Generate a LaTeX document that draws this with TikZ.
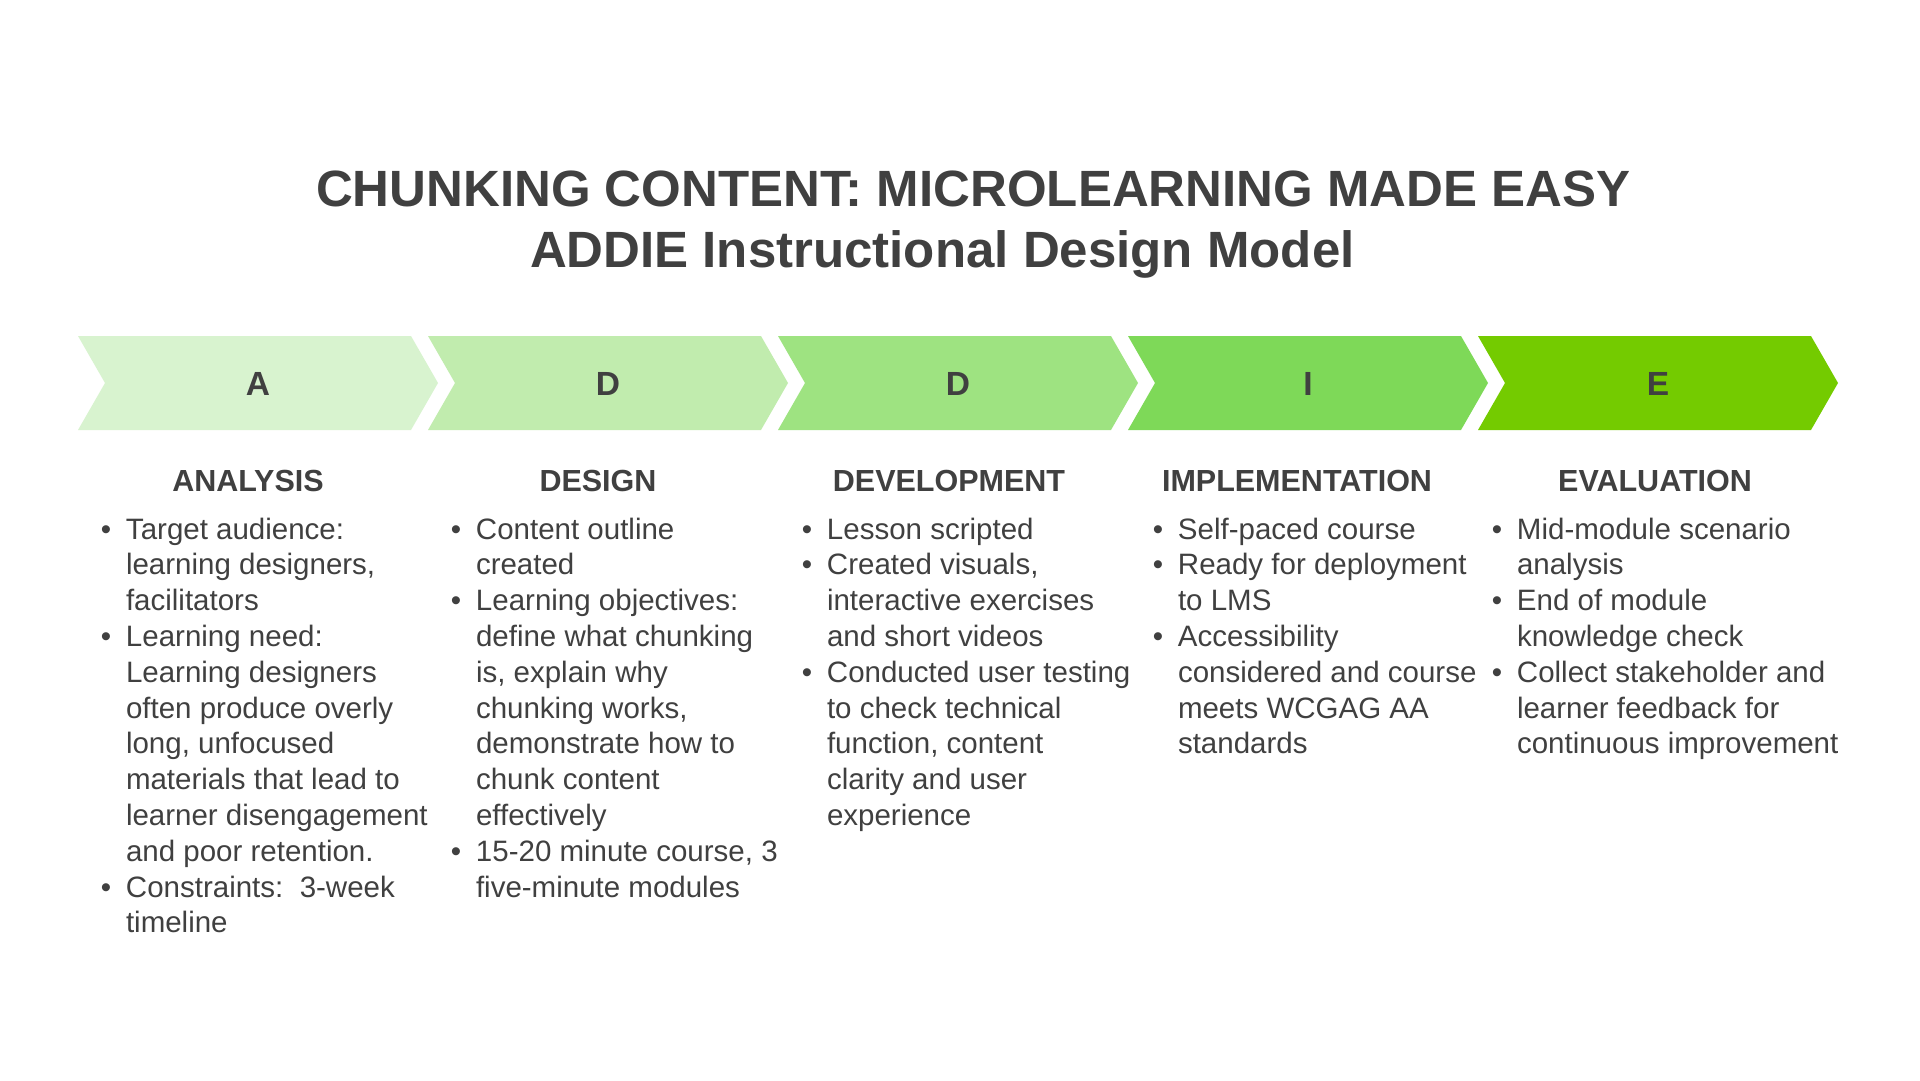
\documentclass[tikz,border=0pt]{standalone}
\usepackage{fontspec}
\setmainfont{Liberation Sans}
\definecolor{txt}{HTML}{404040}
\definecolor{cA}{HTML}{D8F3CF}
\definecolor{cB}{HTML}{C1ECAE}
\definecolor{cC}{HTML}{9EE381}
\definecolor{cD}{HTML}{7ED958}
\definecolor{cE}{HTML}{74CB00}
\newcommand\bi[1]{\hbox{\llap{\hbox to 40pt{\hss\textbullet\hss}}#1}}
\newcommand\cl[1]{\hbox{#1}}
\newcommand\lines[1]{\vtop{\baselineskip=35.8pt\lineskiplimit=-100pt\lineskip=0pt #1}}
\begin{document}
\begin{tikzpicture}[x=1pt,y=-1pt,
  every node/.style={inner sep=0pt, outer sep=0pt, text=txt},
  titlefont/.style={font=\fontsize{51}{56}\selectfont\bfseries},
  letterfont/.style={font=\fontsize{33.5}{36}\selectfont\bfseries},
  headfont/.style={font=\fontsize{30.5}{32}\selectfont\bfseries},
  bodyfont/.style={font=\fontsize{29.5}{36}\selectfont}]
\useasboundingbox[fill=white] (0,0) rectangle (1920,1080);

\node[titlefont, anchor=base west] (t1) at (316,206) {CHUNKING CONTENT: MICROLEARNING MADE EASY};
\node[titlefont, anchor=base west] (t2) at (530,267) {ADDIE Instructional Design Model};

\foreach \i/\c/\l in {0/cA/A,1/cB/D,2/cC/D,3/cD/I,4/cE/E}{
  \pgfmathsetmacro\L{78+350*\i}
  \fill[\c] (\L,336) -- (\L+333,336) -- (\L+360,383) -- (\L+333,430) -- (\L,430) -- (\L+27,383) -- cycle;
  \node[letterfont, anchor=base] (ch\i) at (\L+180,395) {\l};
}

\node[headfont, anchor=base] (h1) at (248,491) {ANALYSIS};
\node[headfont, anchor=base] (h2) at (598,491) {DESIGN};
\node[headfont, anchor=base] (h3) at (949,491) {DEVELOPMENT};
\node[headfont, anchor=base] (h4) at (1297,491) {IMPLEMENTATION};
\node[headfont, anchor=base] (h5) at (1655,491) {EVALUATION};

\node[bodyfont, anchor=base west] (b1) at (126,539) {\lines{%
\bi{Target audience:}
\cl{learning designers,}
\cl{facilitators}
\bi{Learning need:}
\cl{Learning designers}
\cl{often produce overly}
\cl{long, unfocused}
\cl{materials that lead to}
\cl{learner disengagement}
\cl{and poor retention.}
\bi{Constraints:\ \ 3-week}
\cl{timeline}}};

\node[bodyfont, anchor=base west] (b2) at (476,539) {\lines{%
\bi{Content outline}
\cl{created}
\bi{Learning objectives:}
\cl{define what chunking}
\cl{is, explain why}
\cl{chunking works,}
\cl{demonstrate how to}
\cl{chunk content}
\cl{effectively}
\bi{15-20 minute course, 3}
\cl{five-minute modules}}};

\node[bodyfont, anchor=base west] (b3) at (827,539) {\lines{%
\bi{Lesson scripted}
\bi{Created visuals,}
\cl{interactive exercises}
\cl{and short videos}
\bi{Conducted user testing}
\cl{to check technical}
\cl{function, content}
\cl{clarity and user}
\cl{experience}}};

\node[bodyfont, anchor=base west] (b4) at (1178,539) {\lines{%
\bi{Self-paced course}
\bi{Ready for deployment}
\cl{to LMS}
\bi{Accessibility}
\cl{considered and course}
\cl{meets WCGAG AA}
\cl{standards}}};

\node[bodyfont, anchor=base west] (b5) at (1517,539) {\lines{%
\bi{Mid-module scenario}
\cl{analysis}
\bi{End of module}
\cl{knowledge check}
\bi{Collect stakeholder and}
\cl{learner feedback for}
\cl{continuous improvement}}};
\end{tikzpicture}
\end{document}
